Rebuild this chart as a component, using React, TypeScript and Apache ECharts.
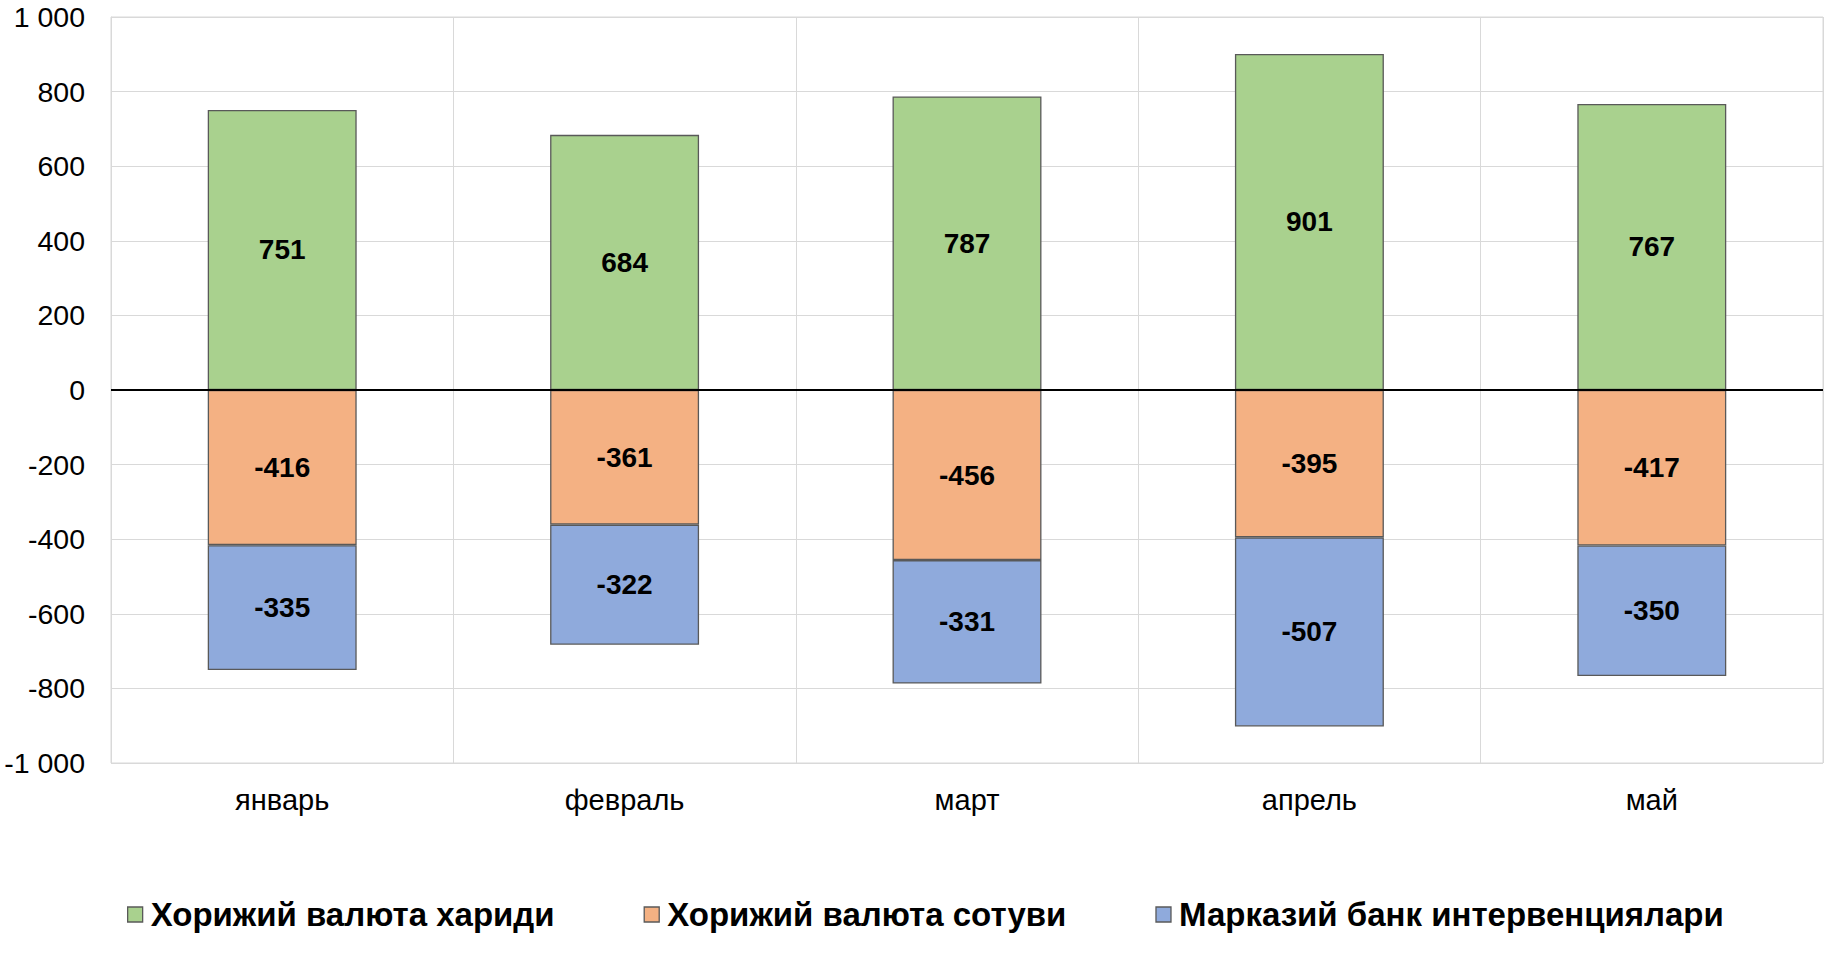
import React, { useEffect, useRef } from "react";
import * as echarts from "echarts";

const categories = ["январь", "февраль", "март", "апрель", "май"];
const purchases = [751, 684, 787, 901, 767];
const sales = [-416, -361, -456, -395, -417];
const interventions = [-335, -322, -331, -507, -350];
const seriesNames = [
  "Хорижий валюта хариди",
  "Хорижий валюта сотуви",
  "Марказий банк интервенциялари",
];
const colors = ["#A9D18E", "#F4B183", "#8FAADC"];

const FONT = '"Liberation Sans", Arial, sans-serif';

const fmt = (v: number) => {
  const s = Math.abs(v).toString().replace(/\B(?=(\d{3})+(?!\d))/g, " ");
  return (v < 0 ? "-" : "") + s;
};

export default function App() {
  const ref = useRef<HTMLDivElement>(null);
  useEffect(() => {
    if (!ref.current) return;
    const chart = echarts.init(ref.current, null, { renderer: "svg" });
    const label = {
      show: true,
      position: "inside",
      color: "#000",
      fontFamily: FONT,
      fontWeight: "bold",
      fontSize: 28,
    };
    const mk = (name: string, data: number[], color: string, stack: string, extra: any = {}) => ({
      name,
      type: "bar",
      stack,
      data,
      barWidth: "43.5%",
      itemStyle: { color, borderColor: "#595959", borderWidth: 1.3 },
      label,
      ...extra,
    });
    chart.setOption({
      animation: false,
      backgroundColor: "#fff",
      grid: {
        left: 111,
        right: 14,
        top: 17,
        bottom: 204,
        show: true,
        borderColor: "#d9d9d9",
        borderWidth: 1,
      },
      legend: {
        left: 122,
        top: 893,
        itemWidth: 15,
        itemHeight: 15,
        itemGap: 89,
        icon: "rect",
        textStyle: {
          fontFamily: FONT,
          fontWeight: "bold",
          fontSize: 33,
          color: "#000",
          padding: [0, 0, 0, 3],
        },
        data: seriesNames.map((n, i) => ({
          name: n,
          itemStyle: { color: colors[i], borderColor: "#595959", borderWidth: 1.3 },
        })),
      },
      xAxis: {
        type: "category",
        data: categories,
        axisLine: { show: false, onZero: false },
        axisTick: { show: false },
        axisLabel: { color: "#000", fontFamily: FONT, fontSize: 29, margin: 22 },
        splitLine: { show: true, lineStyle: { color: "#d9d9d9", width: 1 } },
      },
      yAxis: {
        type: "value",
        min: -1000,
        max: 1000,
        interval: 200,
        axisLine: { show: true, lineStyle: { color: "#d9d9d9" } },
        axisTick: { show: false },
        axisLabel: {
          color: "#000",
          fontFamily: FONT,
          fontSize: 28.5,
          margin: 26,
          formatter: (v: number) => fmt(v),
        },
        splitLine: { show: true, lineStyle: { color: "#d9d9d9", width: 1 } },
      },
      series: [
        mk(seriesNames[0], purchases, colors[0], "total", {
          markLine: {
            silent: true,
            symbol: "none",
            label: { show: false },
            lineStyle: { color: "#000", width: 2, type: "solid" },
            data: [{ yAxis: 0 }],
            z: 10,
          },
        }),
        mk(seriesNames[1], sales, colors[1], "total"),
        mk(seriesNames[2], interventions, colors[2], "total"),
      ],
    });
    return () => chart.dispose();
  }, []);
  return (
    <div
      ref={ref}
      style={{ position: "fixed", left: 0, top: 0, width: 1837, height: 967 }}
    />
  );
}
